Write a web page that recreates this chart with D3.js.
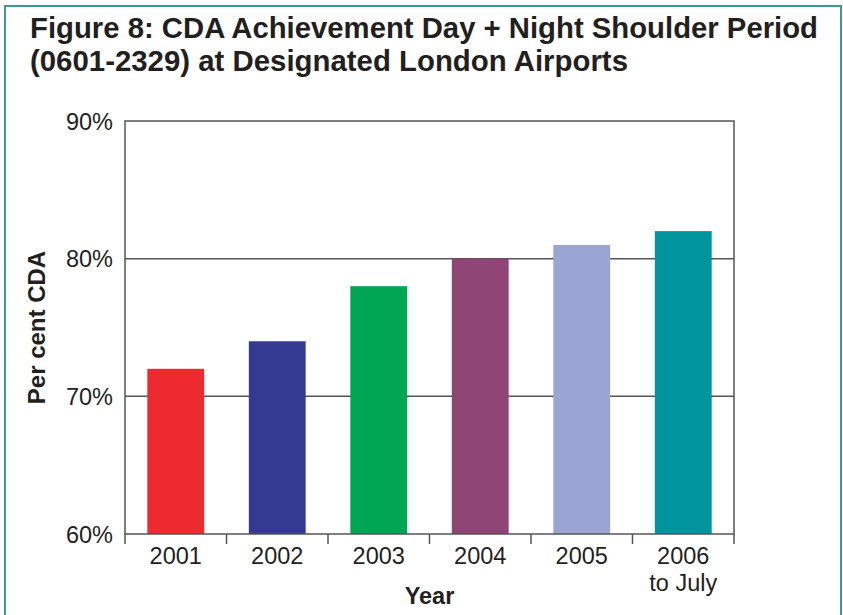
<!DOCTYPE html>
<html>
<head>
<meta charset="utf-8">
<script src="https://cdn.jsdelivr.net/npm/d3@7"></script>
<style>
  body { margin: 0; background: #fff; }
  svg text { font-family: "Liberation Sans", Arial, sans-serif; fill: #231f20; }
</style>
</head>
<body>
<div id="chart"></div>
<script>
// chart data
const years = ["2001", "2002", "2003", "2004", "2005", "2006\nto July"];
const cdaPercent = [72, 74, 78, 80, 81, 82];
const barColors = ["#ec2a2f", "#343a92", "#00a651", "#8e4475", "#9aa5d3", "#00949f"];
const yTicks = [60, 70, 80, 90];

const width = 843, height = 615;
const margin = { top: 121, right: 109, bottom: 81, left: 125 };

const svg = d3.select("#chart").append("svg")
    .attr("width", width)
    .attr("height", height);

// outer frame (bottom edge runs off the picture)
svg.append("path")
    .attr("d", `M5,${height + 5} L5,6 L841,6 L841,${height + 5}`)
    .attr("fill", "none")
    .attr("stroke", "#3a9c8f")
    .attr("stroke-width", 2);

// title
const title = svg.append("text")
    .attr("x", 30)
    .attr("font-size", 29)
    .attr("font-weight", "bold");
title.append("tspan").attr("x", 30).attr("y", 38)
    .attr("textLength", 788).attr("lengthAdjust", "spacingAndGlyphs")
    .text("Figure 8: CDA Achievement Day + Night Shoulder Period");
title.append("tspan").attr("x", 30).attr("y", 71)
    .attr("textLength", 598).attr("lengthAdjust", "spacingAndGlyphs")
    .text("(0601-2329) at Designated London Airports");

const x = d3.scaleBand()
    .domain(years)
    .range([margin.left, width - margin.right])
    .paddingInner(0.44)
    .paddingOuter(0.22);

const y = d3.scaleLinear()
    .domain([60, 90])
    .range([height - margin.bottom, margin.top]);

const axisColor = "#555";
const labelSize = 23.5;

// gridlines
svg.append("g")
    .selectAll("line")
    .data(yTicks.filter(d => d > 60 && d < 90))
    .enter().append("line")
    .attr("x1", margin.left)
    .attr("x2", width - margin.right)
    .attr("y1", d => y(d))
    .attr("y2", d => y(d))
    .attr("stroke", axisColor)
    .attr("stroke-width", 1.5);

// bars
svg.append("g")
    .selectAll("rect")
    .data(years)
    .enter().append("rect")
    .attr("x", d => x(d))
    .attr("width", x.bandwidth())
    .attr("y", (d, i) => y(cdaPercent[i]))
    .attr("height", (d, i) => y(60) - y(cdaPercent[i]))
    .attr("fill", (d, i) => barColors[i]);

// plot frame
svg.append("rect")
    .attr("x", margin.left)
    .attr("y", margin.top)
    .attr("width", width - margin.right - margin.left)
    .attr("height", height - margin.bottom - margin.top)
    .attr("fill", "none")
    .attr("stroke", axisColor)
    .attr("stroke-width", 1.5);

// y axis labels
const yAxis = svg.append("g")
    .attr("transform", `translate(${margin.left},0)`)
    .call(d3.axisLeft(y).tickValues(yTicks).tickSize(0).tickPadding(12).tickFormat(d => d + "%"));
yAxis.select(".domain").remove();
yAxis.selectAll("text")
    .attr("font-size", labelSize)
    .attr("font-family", "Liberation Sans, Arial, sans-serif")
    .attr("fill", "#231f20")
    .attr("dy", "0.35em");

// x axis: ticks at category boundaries
const boundaries = d3.range(years.length + 1).map(i => margin.left + i * (width - margin.right - margin.left) / years.length);
svg.append("g")
    .selectAll("line")
    .data(boundaries)
    .enter().append("line")
    .attr("x1", d => d)
    .attr("x2", d => d)
    .attr("y1", y(60))
    .attr("y2", y(60) + 10)
    .attr("stroke", axisColor)
    .attr("stroke-width", 1.5);

const xLabels = svg.append("g")
    .selectAll("text")
    .data(years)
    .enter().append("text")
    .attr("text-anchor", "middle")
    .attr("font-size", labelSize)
    .attr("x", d => x(d) + x.bandwidth() / 2)
    .attr("y", y(60) + 30);
xLabels.each(function(d) {
    const lines = d.split("\n");
    lines.forEach((t, i) => {
        d3.select(this).append("tspan")
            .attr("x", x(d) + x.bandwidth() / 2)
            .attr("dy", i === 0 ? 0 : 27)
            .text(t);
    });
});

// axis titles
svg.append("text")
    .attr("x", (margin.left + width - margin.right) / 2)
    .attr("y", 604)
    .attr("text-anchor", "middle")
    .attr("font-size", labelSize)
    .attr("font-weight", "bold")
    .text("Year");

svg.append("text")
    .attr("transform", `translate(45,${(margin.top + height - margin.bottom) / 2}) rotate(-90)`)
    .attr("text-anchor", "middle")
    .attr("font-size", 24)
    .attr("font-weight", "bold")
    .text("Per cent CDA");
</script>
</body>
</html>
